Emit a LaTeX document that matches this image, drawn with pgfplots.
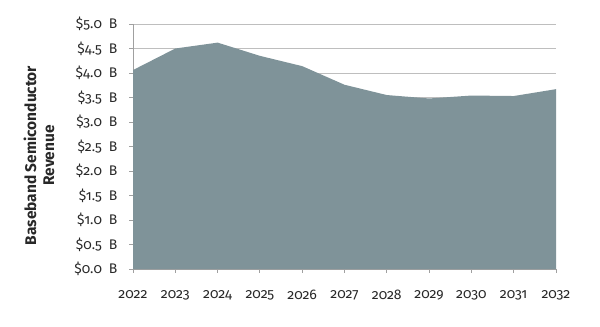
\documentclass[border=0pt]{standalone}
\usepackage{pgfplots}
\pgfplotsset{compat=1.18}
\usepackage{fontspec}
\setmainfont[Numbers=OldStyle]{Fira Sans}
\definecolor{areafill}{RGB}{127,147,153}
\definecolor{gridc}{RGB}{190,190,190}
\definecolor{axisc}{RGB}{160,160,160}
\definecolor{textc}{RGB}{40,40,40}
\begin{document}
\begin{tikzpicture}
\useasboundingbox (0,0) rectangle (600bp,327bp);
\begin{axis}[
  at={(133bp,58bp)}, anchor=south west,
  scale only axis, width=423bp, height=245bp,
  xmin=2022, xmax=2032, ymin=0, ymax=5,
  xtick={2022,...,2032},
  ytick={0,0.5,...,5},
  axis x line*=bottom, axis y line*=left,
  axis line style={axisc, line width=0.8pt},
  every tick/.style={axisc, line width=0.8pt},
  tick align=outside, major tick length=4bp,
  ymajorgrids, major grid style={gridc, line width=0.8pt},
  /pgf/number format/assume math mode=true,
  /pgf/number format/1000 sep={},
  xticklabel style={font=\fontsize{14}{16}\selectfont, text=textc, yshift=-14bp},
  yticklabel style={font=\fontsize{14}{16}\selectfont, text=textc, xshift=-8bp},
  yticklabel={\$\pgfmathprintnumber[fixed,fixed zerofill,precision=1]{\tick}\hspace{7bp}B},
  ylabel={Baseband Semiconductor\\Revenue},
  ylabel style={at={(rel axis cs:0,0.5)}, xshift=-9bp, yshift=94bp, anchor=center,
    align=center, font=\bfseries\fontsize{15.5}{18}\selectfont, text=textc},
  clip=false,
]
\addplot[fill=areafill, draw=none] coordinates {
  (2022,4.06) (2023,4.50) (2024,4.62) (2025,4.35) (2026,4.14) (2027,3.76)
  (2028,3.55) (2029,3.48) (2030,3.54) (2031,3.53) (2032,3.67)
} \closedcycle;
\end{axis}
\end{tikzpicture}
\end{document}
